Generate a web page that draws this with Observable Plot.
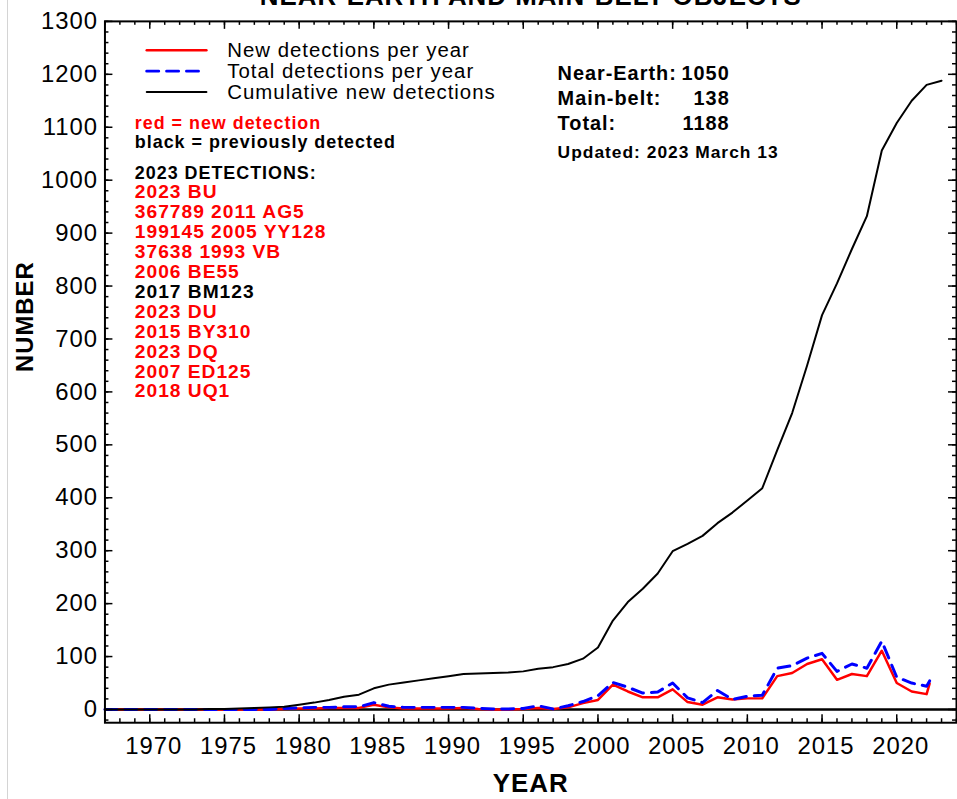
<!DOCTYPE html>
<html>
<head>
<meta charset="utf-8">
<script src="https://cdn.jsdelivr.net/npm/d3@7"></script>
<script src="https://cdn.jsdelivr.net/npm/@observablehq/plot@0.6"></script>
<style>
  html, body { margin: 0; padding: 0; background: #fff; overflow: hidden; }
  #chart { position: relative; width: 957px; height: 799px; overflow: hidden; }
  #chart svg text { letter-spacing: 1px; }
  #chart .edge { position: absolute; left: 7px; top: 0; width: 1px; height: 799px; background: #d4d4d4; }
</style>
</head>
<body>
<div id="chart"></div>
<script>
// Years of the per-year series (the extra final entry is 2023 to date, annualised)
const years = [1967,1968,1969,1970,1971,1972,1973,1974,1975,1976,1977,1978,1979,1980,1981,1982,1983,1984,1985,1986,1987,1988,1989,1990,1991,1992,1993,1994,1995,1996,1997,1998,1999,2000,2001,2002,2003,2004,2005,2006,2007,2008,2009,2010,2011,2012,2013,2014,2015,2016,2017,2018,2019,2020,2021,2022,2022.2];

// New detections per year
const newPerYear = [0,0,0,0,0,0,0,0,0,0,0,0,
  1,2,2,3,3,3,9,4,2,2,2,2,3,1,0,0,1,3,1,4,12,
  18,47,34,23,23,38,14,9,23,19,21,21,63,69,86,95,56,67,63,111,50,34,29,
  49];

// Total detections per year (new + previously detected)
const totalPerYear = [0,0,0,0,0,0,0,0,0,0,0,0,
  2,3,4,4,5,5,13,6,4,4,4,4,4,2,1,1,2,7,1,7,15,
  26,51,42,31,33,50,22,13,36,19,25,27,78,83,97,106,72,86,78,129,61,50,44,
  54];

// Cumulative new detections, 1967–2023
const cumYears = [1967,1968,1969,1970,1971,1972,1973,1974,1975,1976,1977,1978,1979,1980,1981,1982,1983,1984,1985,1986,1987,1988,1989,1990,1991,1992,1993,1994,1995,1996,1997,1998,1999,2000,2001,2002,2003,2004,2005,2006,2007,2008,2009,2010,2011,2012,2013,2014,2015,2016,2017,2018,2019,2020,2021,2022,2023];
const cumulative = [0,0,0,0,0,0,0,1,1,2,3,4,5,
  9,13,18,24,28,40,47,51,55,59,63,67,68,69,70,72,77,80,86,96,
  117,168,203,228,257,299,313,328,352,372,395,418,490,560,650,745,805,870,932,1056,1108,1150,1180,1188];

// Tick labels
const xTickLabels = [1970,1975,1980,1985,1990,1995,2000,2005,2010,2015,2020];
const yTickLabels = [0,100,200,300,400,500,600,700,800,900,1000,1100,1200,1300];

// Legend and annotation text
const legendLabels = ["New detections per year", "Total detections per year", "Cumulative new detections"];
const noteLabels = ["red = new detection", "black = previously detected"];
const detectionsHeader = "2023 DETECTIONS:";
const detections2023 = ["2023 BU","367789 2011 AG5","199145 2005 YY128","37638 1993 VB","2006 BE55","2017 BM123","2023 DU","2015 BY310","2023 DQ","2007 ED125","2018 UQ1"];
const detectionIsNew = [true,true,true,true,true,false,true,true,true,true,true];
const statLabels = ["Near-Earth:", "Main-belt:", "Total:"];
const statValues = [1050, 138, 1188];
const updatedLabel = "Updated: 2023 March 13";
const title = "NEAR-EARTH AND MAIN-BELT OBJECTS";

const perYear = years.map((year, i) => ({year, fresh: newPerYear[i], total: totalPerYear[i]}));
const cumRows = cumYears.map((year, i) => ({year, value: cumulative[i]}));

// minor tick positions
const xMinor = d3.range(1967, 2025, 1);
const yMinor = d3.range(-20, 1301, 20);

// plot geometry
const W = 962, H = 799;
const mL = 105, mR = 1, mT = 21, mB = 73;
const frameW = W - mL - mR, frameH = H - mT - mB;

// a plain horizontal stroke for the legend samples
const hLine = { draw(context, l) { context.moveTo(0, 0); context.lineTo(l, 0); } };

const redC = "#ff0000", blueC = "#0000ff";
const legendStyles = [
  {stroke: redC, strokeWidth: 2.5},
  {stroke: blueC, strokeWidth: 3, strokeDasharray: "12,8"},
  {stroke: "black", strokeWidth: 2}
];

const tl = {frameAnchor: "top-left", lineAnchor: "bottom", text: d => d};

// short inward ticks along each side of the frame
const xTicks = (values, len) => [
  Plot.tickX(values, {x: d => d, insetTop: frameH - len, stroke: "black", strokeWidth: 1.5}),
  Plot.tickX(values, {x: d => d, insetBottom: frameH - len, stroke: "black", strokeWidth: 1.5})
];
const yTicks = (values, len) => [
  Plot.tickY(values, {y: d => d, insetRight: frameW - len, stroke: "black", strokeWidth: 1.5}),
  Plot.tickY(values, {y: d => d, insetLeft: frameW - len, stroke: "black", strokeWidth: 1.5})
];

const chart = Plot.plot({
  width: W,
  height: H,
  marginLeft: mL,
  marginRight: mR,
  marginTop: mT,
  marginBottom: mB,
  style: {fontFamily: "'Liberation Sans', Arial, Helvetica, sans-serif", color: "black", background: "white"},
  x: {domain: [1967, 2024], axis: null},
  y: {domain: [-25, 1300], axis: null},
  marks: [
    Plot.ruleY([0], {stroke: "black", strokeWidth: 2.5}),
    Plot.line(perYear, {x: "year", y: "fresh", stroke: redC, strokeWidth: 2.5, strokeLinejoin: "round"}),
    Plot.line(perYear, {x: "year", y: "total", stroke: blueC, strokeWidth: 3, strokeDasharray: "12,8"}),
    Plot.line(cumRows, {x: "year", y: "value", stroke: "black", strokeWidth: 2}),

    ...xTicks(xMinor, 4),
    ...xTicks(xTickLabels, 8),
    ...yTicks(yMinor, 4),
    ...yTicks(yTickLabels, 8),
    Plot.frame({stroke: "black", strokeWidth: 2}),

    // tick labels
    Plot.axisX(xTickLabels, {anchor: "bottom", tickSize: 0, tickPadding: 14, dx: 4, fontSize: 24, tickFormat: d => String(d), label: null}),
    Plot.axisY(yTickLabels, {anchor: "left", tickSize: 0, tickPadding: 7, fontSize: 24, tickFormat: d => String(d), label: null}),

    // titles
    Plot.text([title], {frameAnchor: "top", lineAnchor: "bottom", dy: -16, fontSize: 26, fontWeight: "bold", text: d => d}),
    Plot.text(["NUMBER"], {frameAnchor: "left", rotate: -90, dx: -80, fontSize: 24, fontWeight: "bold", text: d => d}),
    Plot.text(["YEAR"], {frameAnchor: "bottom", lineAnchor: "bottom", dy: 70, fontSize: 26, fontWeight: "bold", text: d => d}),

    // legend
    ...legendLabels.map((label, i) => Plot.vector([label], {frameAnchor: "top-left", dx: 42, dy: 29 + 21 * i, length: 60, anchor: "start", shape: hLine, ...legendStyles[i]})),
    ...legendLabels.map((label, i) => Plot.text([label], {frameAnchor: "top-left", lineAnchor: "middle", dx: 123, dy: 29 + 21 * i, fontSize: 20.5, textAnchor: "start", text: d => d})),

    // colour key and list of this year's detections
    Plot.text([noteLabels[0]], {...tl, dx: 30, dy: 108, fontSize: 18, fontWeight: "bold", fill: redC, textAnchor: "start"}),
    Plot.text([noteLabels[1]], {...tl, dx: 30, dy: 127, fontSize: 18, fontWeight: "bold", fill: "black", textAnchor: "start"}),
    Plot.text([detectionsHeader], {...tl, dx: 30, dy: 158, fontSize: 18, fontWeight: "bold", fill: "black", textAnchor: "start"}),
    ...detections2023.map((name, i) => Plot.text([name], {...tl, dx: 30, dy: 178 + 20 * i, fontSize: 19.3, fontWeight: "bold", fill: detectionIsNew[i] ? redC : "black", textAnchor: "start"})),

    // totals
    ...statLabels.map((label, i) => Plot.text([label], {...tl, dx: 455, dy: 59 + 25 * i, fontSize: 20, fontWeight: "bold", textAnchor: "start"})),
    ...statValues.map((v, i) => Plot.text([String(v)], {...tl, dx: 628, dy: 59 + 25 * i, fontSize: 20, fontWeight: "bold", textAnchor: "end"})),
    Plot.text([updatedLabel], {...tl, dx: 455, dy: 137, fontSize: 17.5, fontWeight: "bold", textAnchor: "start"})
  ]
});

const holder = document.getElementById("chart");
holder.appendChild(chart);
const edge = document.createElement("div");
edge.className = "edge";
holder.appendChild(edge);
</script>
</body>
</html>
